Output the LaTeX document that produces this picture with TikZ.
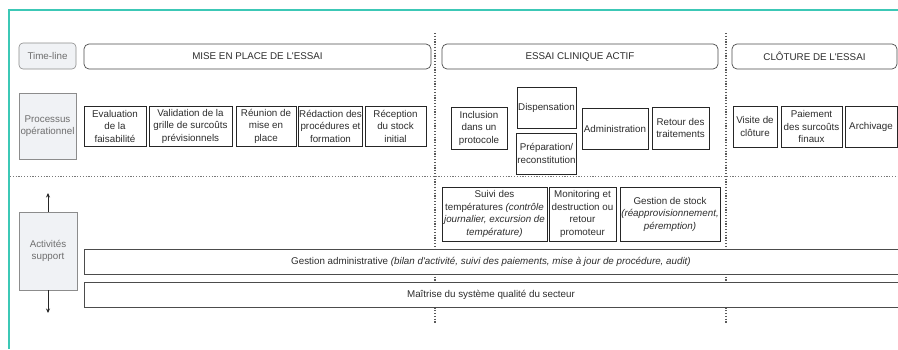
\documentclass[tikz,border=0pt]{standalone}
\usepackage{fontspec}
\setmainfont{Liberation Sans}
\usetikzlibrary{arrows.meta}
\definecolor{frameteal}{RGB}{60,200,182}
\definecolor{txt}{RGB}{45,45,45}
\definecolor{lbltxt}{RGB}{110,110,110}
\definecolor{lblfill}{RGB}{240,242,245}
\definecolor{sep}{RGB}{120,120,120}
\begin{document}
\begin{tikzpicture}[x=1pt,y=-1pt,
  every node/.style={font=\fontsize{9.8}{12.5}\selectfont, text=txt, align=center, inner sep=1pt},
  lbl/.style={draw=black!45, fill=lblfill, text=lbltxt, line width=0.6pt},
  phase/.style={draw=black!70, fill=white, rounded corners=5pt, line width=0.7pt, minimum height=25pt},
  opbox/.style={draw=black!85, fill=white, line width=1pt},
  bar/.style={draw=black!70, fill=white, line width=0.8pt, minimum height=25pt, minimum width=814pt},
  sepline/.style={draw=sep, line width=0.9pt, dash pattern=on 1.2pt off 1.6pt},
  vsepline/.style={sepline, draw=black!65, line width=1.1pt},
  supparrow/.style={-{Stealth[length=4.5pt,width=4pt]}, line width=0.8pt, draw=black!85}]
\useasboundingbox (0,0) rectangle (898,349);
% outer frame
\draw[frameteal, line width=1.3pt] (898,10) -- (9,10) -- (9,349);

% phase separators
\draw[sepline] (10,176) -- (898,176);
\draw[vsepline] (435,33) -- (435,323);
\draw[vsepline] (726,33) -- (726,323);

% time-line row
\node[lbl, rounded corners=4pt, minimum width=57pt, minimum height=26pt] (tl) at (47.5,56) {Time-line};
\node[phase, minimum width=347pt] (mise) at (257.5,56.5) {MISE EN PLACE DE L\textquotesingle ESSAI};
\node[phase, minimum width=276pt] (actif) at (580,56.5) {ESSAI CLINIQUE ACTIF};
\node[phase, minimum width=165pt] (clot) at (814.5,56.5) {CLÔTURE DE L\textquotesingle ESSAI};

% operational processes
\node[lbl, minimum width=57pt, minimum height=66pt] (proc) at (47.5,126) {Processus\\opérationnel};
\node[opbox, minimum width=62pt, minimum height=40pt] (eval) at (115,126) {Evaluation\\de la\\faisabilité};
\node[opbox, minimum width=83pt, minimum height=40pt] (valid) at (190.5,126) {Validation de la\\grille de surcoûts\\prévisionnels};
\node[opbox, minimum width=60pt, minimum height=40pt] (reun) at (266,126) {Réunion de\\mise en\\place};
\node[opbox, minimum width=61pt, minimum height=40pt] (redac) at (330.5,126) {Rédaction des\\procédures et\\formation};
\node[opbox, minimum width=61pt, minimum height=40pt] (recep) at (395.5,126) {Réception\\du stock\\initial};

\node[opbox, minimum width=56pt, minimum height=42pt] (incl) at (479,128) {Inclusion\\dans un\\protocole};
\node[opbox, minimum width=59pt, minimum height=41pt] (disp) at (546.5,107.5) {Dispensation};
\node[opbox, minimum width=59pt, minimum height=41pt] (prep) at (546.5,153.5) {Préparation/\\reconstitution};
\node[opbox, minimum width=66pt, minimum height=41pt] (admin) at (615,128.5) {Administration};
\node[opbox, minimum width=57pt, minimum height=42pt] (ret) at (680.5,128) {Retour des\\traitements};

\node[opbox, minimum width=44pt, minimum height=41pt] (visite) at (755,126.5) {Visite de\\clôture};
\node[opbox, minimum width=61pt, minimum height=41pt] (paie) at (811.5,126.5) {Paiement\\des surcoûts\\finaux};
\node[opbox, minimum width=52pt, minimum height=41pt] (arch) at (871,126.5) {Archivage};

% support activities
\node[lbl, minimum width=58pt, minimum height=78pt] (supp) at (48,251) {Activités\\support};
\coordinate (suppup) at (48,193);
\coordinate (suppdown) at (48,313);
\draw[supparrow] (supp.north) -- (suppup);
\draw[supparrow] (supp.south) -- (suppdown);

\node[opbox, minimum width=105pt, minimum height=54pt] (temp) at (494.5,214) {Suivi des\\températures \textit{(contrôle}\\\textit{journalier, excursion de}\\\textit{température)}};
\node[opbox, minimum width=67pt, minimum height=54pt] (monit) at (582.5,214) {Monitoring et\\destruction ou\\retour\\promoteur};
\node[opbox, minimum width=100pt, minimum height=54pt] (stock) at (670,214) {Gestion de stock\\\textit{(réapprovisionnement,}\\\textit{péremption)}};

\node[bar] (gadm) at (491,261.5) {Gestion administrative \textit{(bilan d\textquotesingle activité, suivi des paiements, mise à jour de procédure, audit)}};
\node[bar] (qual) at (491,294.5) {Maîtrise du système qualité du secteur};
\end{tikzpicture}
\end{document}
